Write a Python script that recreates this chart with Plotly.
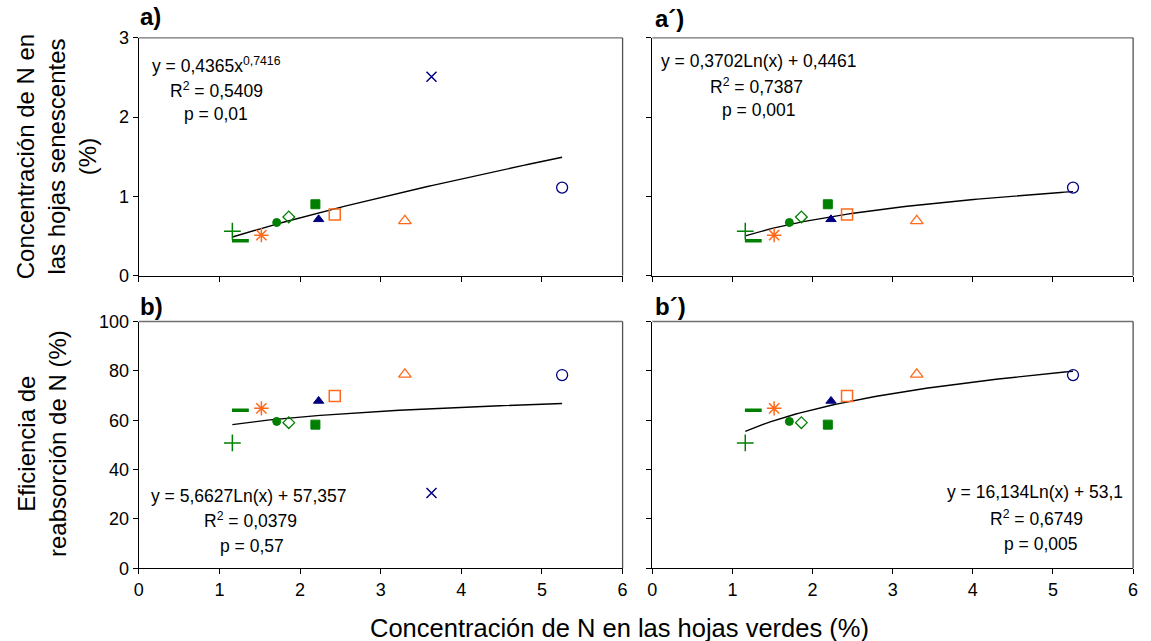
import math
import plotly.graph_objects as go

# ---------------- data ----------------
categories = ["sp1", "sp2", "sp3", "sp4", "sp5", "sp6", "sp7", "sp8", "sp9", "sp10", "sp11"]
n_verde = [1.16, 1.26, 1.52, 1.71, 1.86, 2.19, 2.23, 2.43, 3.30, 3.63, 5.25]
n_senescente = [0.56, 0.44, 0.51, 0.67, 0.74, 0.90, 0.71, 0.77, 0.69, 2.51, 1.11]
eficiencia = [50.8, 64.0, 64.8, 59.5, 59.0, 58.2, 67.8, 69.8, 78.6, 30.5, 78.3]
outlier = "sp10"  # excluded in panels a' and b'

# fitted trend-line coefficients (as printed on the chart)
fit_a = (0.4365, 0.7416)      # power: y = a*x^b
fit_a2 = (0.3702, 0.4461)     # log: y = a*ln(x)+b
fit_b = (5.6627, 57.357)
fit_b2 = (16.134, 53.1)

x_ticks = [0, 1, 2, 3, 4, 5, 6]
y_ticks_top = [0, 1, 2, 3]
y_ticks_bot = [0, 20, 40, 60, 80, 100]

# ---------------- styles ----------------
GREEN = "#008000"
NAVY = "#000080"
ORANGE = "#FF6A1A"
sym = ["cross-thin-open", "line-ew-open", "asterisk-open", "circle", "diamond-open", "square",
       "triangle-up", "square-open", "triangle-up-open", "x-thin-open", "circle-open"]
col = [GREEN, GREEN, ORANGE, GREEN, GREEN, GREEN, NAVY, ORANGE, ORANGE, NAVY, NAVY]
size = [12, 12, 12, 8, 9, 9, 9, 11, 11, 10, 11]
lw = [1.5, 3.5, 1.5, 1, 1.3, 1, 1, 1.5, 1.3, 1.5, 1.3]

FONT = "Arial, Liberation Sans, sans-serif"
W, H = 1151, 641

fig = go.Figure()


def sy(py):
    # vertical calibration of the rendered page
    return (py - 9.1) / 0.97


def px2paper(px, py):
    return px / W, 1 - sy(py) / H


def add_points(xs, ys, keep, xa, ya):
    idx = [i for i, c in enumerate(categories) if keep(c)]
    fig.add_trace(go.Scatter(
        x=[xs[i] for i in idx], y=[ys[i] for i in idx], mode="markers",
        xaxis=xa, yaxis=ya, showlegend=False, hoverinfo="x+y",
        marker=dict(symbol=[sym[i] for i in idx], color=[col[i] for i in idx],
                    size=[size[i] for i in idx], opacity=1,
                    line=dict(color=[col[i] for i in idx], width=[lw[i] for i in idx]))))


def add_curve(xs, kind, coef, keep, xa, ya):
    sel = [x for x, c in zip(xs, categories) if keep(c)]
    lo, hi = min(sel), max(sel)
    n = 80
    xx = [lo + (hi - lo) * k / (n - 1) for k in range(n)]
    if kind == "pow":
        yy = [coef[0] * x ** coef[1] for x in xx]
    else:
        yy = [coef[0] * math.log(x) + coef[1] for x in xx]
    fig.add_trace(go.Scatter(x=xx, y=yy, mode="lines", xaxis=xa, yaxis=ya, showlegend=False,
                             hoverinfo="skip", line=dict(color="black", width=1.4)))


all_ = lambda c: True
no_out = lambda c: c != outlier

add_curve(n_verde, "pow", fit_a, all_, "x", "y")
add_points(n_verde, n_senescente, all_, "x", "y")
add_curve(n_verde, "log", fit_a2, no_out, "x2", "y2")
add_points(n_verde, n_senescente, no_out, "x2", "y2")
add_curve(n_verde, "log", fit_b, all_, "x3", "y3")
add_points(n_verde, eficiencia, all_, "x3", "y3")
add_curve(n_verde, "log", fit_b2, no_out, "x4", "y4")
add_points(n_verde, eficiencia, no_out, "x4", "y4")

xl = (135 / W, 623 / W)
xr = (653 / W, 1138 / W)
yt = (1 - sy(275) / H, 1 - sy(37) / H)
yb = (1 - sy(568) / H, 1 - sy(321) / H)

tickfont = dict(family=FONT, size=18, color="black")


def xaxis(dom, anchor, labels):
    return dict(domain=dom, anchor=anchor, range=[0, 6], tickvals=x_ticks,
                showticklabels=labels, ticks="outside", ticklen=5, tickcolor="black",
                showline=True, linecolor="black", linewidth=1.3, showgrid=False,
                zeroline=False, tickfont=tickfont, fixedrange=True)


def yaxis(dom, anchor, rng, tv, labels):
    return dict(domain=dom, anchor=anchor, range=rng, tickvals=tv,
                showticklabels=labels, ticks="outside", ticklen=5, tickcolor="black",
                showline=True, linecolor="black", linewidth=1.3, showgrid=False,
                zeroline=False, tickfont=tickfont, fixedrange=True)


fig.update_layout(
    width=W, height=H, margin=dict(l=0, r=0, t=0, b=0), autosize=False,
    paper_bgcolor="white", plot_bgcolor="white",
    font=dict(family=FONT, color="black"),
    xaxis=xaxis(xl, "y", False), yaxis=yaxis(yt, "x", [0, 3], y_ticks_top, True),
    xaxis2=xaxis(xr, "y2", False), yaxis2=yaxis(yt, "x2", [0, 3], y_ticks_top, False),
    xaxis3=xaxis(xl, "y3", True), yaxis3=yaxis(yb, "x3", [0, 100], y_ticks_bot, True),
    xaxis4=xaxis(xr, "y4", True), yaxis4=yaxis(yb, "x4", [0, 100], y_ticks_bot, False),
)

shapes = []
for xa, ya in [("x", "y"), ("x2", "y2"), ("x3", "y3"), ("x4", "y4")]:
    shapes.append(dict(type="line", xref=xa + " domain", yref=ya + " domain", x0=0, x1=1, y0=1, y1=1,
                       line=dict(color="#707070", width=1.3)))
    shapes.append(dict(type="line", xref=xa + " domain", yref=ya + " domain", x0=1, x1=1, y0=0, y1=1,
                       line=dict(color="#505050", width=1.3)))
fig.update_layout(shapes=shapes)

ann = []


def text(px, py, s, size=17.5, xanchor="left", bold=False, angle=0, yanchor="middle"):
    x, y = px2paper(px, py)
    ann.append(dict(x=x, y=y, xref="paper", yref="paper", text=("<b>%s</b>" % s) if bold else s,
                    showarrow=False, xanchor=xanchor, yanchor=yanchor, textangle=angle,
                    font=dict(family=FONT, size=size, color="black")))


text(134, 16, "a)", size=24, bold=True)
text(654, 18, "a´)", size=24, bold=True)
text(134, 306, "b)", size=24, bold=True)
text(654, 306, "b´)", size=24, bold=True)

text(146, 64, "y = 0,4365x<sup>0,7416</sup>")
text(213, 89, "R<sup>2</sup> = 0,5409", xanchor="center")
text(213, 113, "p = 0,01", xanchor="center")

text(660, 60, "y = 0,3702Ln(x) + 0,4461")
text(758, 85, "R<sup>2</sup> = 0,7387", xanchor="center")
text(760, 109, "p = 0,001", xanchor="center")

text(145, 496, "y = 5,6627Ln(x) + 57,357")
text(248, 520, "R<sup>2</sup> = 0,0379", xanchor="center")
text(249, 546, "p = 0,57", xanchor="center")

text(1130, 492, "y = 16,134Ln(x) + 53,1", xanchor="right")
text(1041, 518, "R<sup>2</sup> = 0,6749", xanchor="center")
text(1045, 544, "p = 0,005", xanchor="center")

text(52, 156, "Concentración de N en<br>las hojas senescentes<br>(%)", size=24, xanchor="center", angle=-90)
text(38, 443, "Eficiencia de<br>reabsorción de N (%)", size=24, xanchor="center", angle=-90)
text(620, 628, "Concentración de N en las hojas verdes (%)", size=25.5, xanchor="center")

fig.update_layout(annotations=ann)
fig.write_html("out.html")
